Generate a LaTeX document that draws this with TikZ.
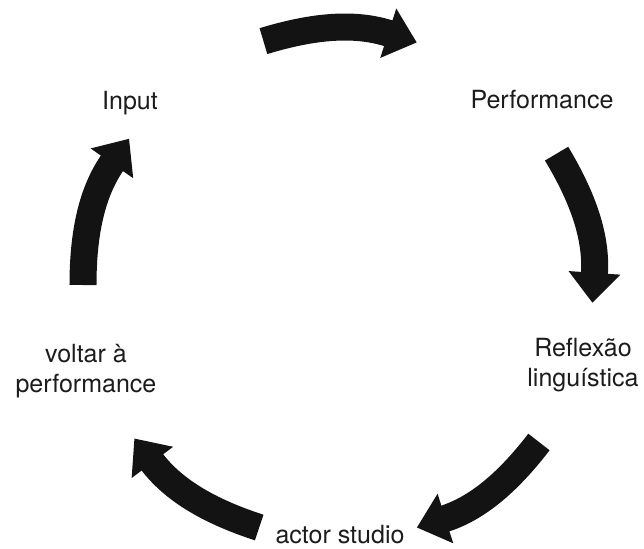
\documentclass[tikz,border=0pt]{standalone}
\usepackage{fontspec}
\setmainfont{TeX Gyre Heros}
\usetikzlibrary{arrows.meta}
\definecolor{Ink}{HTML}{131313}
\definecolor{Txt}{HTML}{1C1C1C}

\begin{document}
\begin{tikzpicture}[
    lbl/.style={text=Txt,align=center,inner sep=0pt,font=\fontsize{17.8}{21.3}\selectfont},
    cyc/.style={-{Triangle[length=7.5mm,width=12.5mm]},line width=6.75mm,draw=Ink}]
    \useasboundingbox (-84.5mm,-65.75mm) rectangle (76.5mm,71.25mm);
    % stages of the cycle
    \node[lbl,anchor=base] (inp) at (-52mm,44mm) {Input};
    \node[lbl,anchor=base] (perf) at (51mm,44.25mm) {Performance};
    \node[lbl] (refl) at (61.25mm,-20.1mm) {Reflexão\\linguística};
    \node[lbl,anchor=base] (actor) at (0.5mm,-64.5mm) {actor studio};
    \node[lbl] (volt) at (-63mm,-21.6mm) {voltar à\\performance};
    % thick curved arrows round the circle
    \foreach \s/\e [count=\i] in {107/72,31/-4,-38/-72,-108/-143,180/145} {
      \coordinate (t\i) at (\s:63.75mm);
      \coordinate (h\i) at (\e:63.75mm);
      \draw[cyc] (t\i) to[bend left=17.5] (h\i);
    }
  \end{tikzpicture}
\end{document}
